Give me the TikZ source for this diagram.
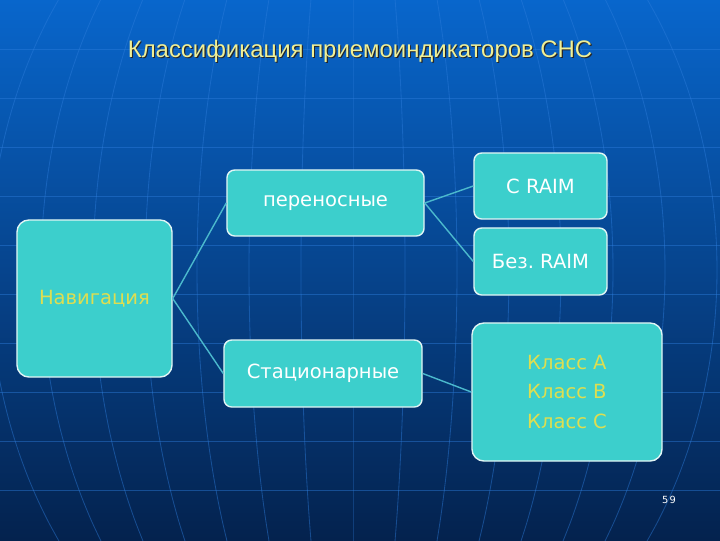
\documentclass[tikz,border=0pt]{standalone}
\usepackage{fontspec}
\setmainfont{DejaVu Sans}
\newfontfamily\titlefont{Liberation Sans}
\usetikzlibrary{positioning}
\frenchspacing

\definecolor{slidetop}{RGB}{8,102,204}
\definecolor{slidemid}{RGB}{8,70,150}
\definecolor{slidebot}{RGB}{4,34,78}
\definecolor{gridblue}{RGB}{45,125,220}
\definecolor{boxfill}{RGB}{60,207,204}
\definecolor{boxedge}{RGB}{225,245,245}
\definecolor{linkteal}{RGB}{75,185,205}
\definecolor{textyellow}{RGB}{222,222,80}
\definecolor{titleyellow}{RGB}{240,240,150}

\newcommand{\shadowed}[1]{\rlap{\kern0.8pt\raisebox{-0.8pt}{\color{black!85}#1}}#1}

\tikzset{
  box/.style={draw=boxedge, line width=1pt, fill=boxfill, rounded corners=5.5pt,
    inner sep=0pt, text=white, font=\fontsize{13.9}{21.3}\selectfont},
  bigbox/.style={box, rounded corners=8.5pt, text=textyellow},
  link/.style={linkteal, line width=1pt},
  gridline/.style={gridblue, opacity=.45, line width=.6pt},
}

\begin{document}
\begin{tikzpicture}[x=0.025cm,y=-0.025cm]
  % slide background
  \shade[top color=slidetop, middle color=slidemid, bottom color=slidebot] (0,0) rectangle (720,540);
  \useasboundingbox (0,0) rectangle (720,540);
  % globe grid
  \foreach \gy in {49,98,...,491}
    \draw[gridline] (0,\gy) -- (720,\gy);
  \foreach \gk in {-7,...,7}
    \draw[gridline, variable=\t, domain=-5:545, samples=25, smooth]
      plot ({353+52*\gk*sqrt(1-((\t-270)/460)^2)},\t);

  % title
  \node[font=\titlefont\fontsize{17}{20}\selectfont, text=titleyellow] (title) at (360,52)
    {\shadowed{Классификация приемоиндикаторов СНС}};

  % boxes
  \node[bigbox, minimum width=3.875cm, minimum height=3.925cm] (nav) at (94.5,298.5) {Навигация};
  \node[box, minimum width=4.925cm, minimum height=1.65cm] (port) at (325.5,203) {переносные};
  \node[box, minimum width=4.95cm, minimum height=1.675cm] (stat) at (323,373.5) {Стационарные};
  \node[box, minimum width=3.325cm, minimum height=1.65cm] (raim) at (540.5,186) {С RAIM};
  \node[box, minimum width=3.325cm, minimum height=1.675cm] (noraim) at (540.5,261.5) {Без. RAIM};
  \node[bigbox, align=left, minimum width=4.75cm, minimum height=3.45cm] (cls) at (567,392)
    {Класс A\\Класс B\\Класс C};

  % links
  \draw[link] (nav.east) -- (port.west);
  \draw[link] (nav.east) -- (stat.west);
  \draw[link] (port.east) -- (raim.west);
  \draw[link] (port.east) -- (noraim.west);
  \draw[link] (stat.east) -- (cls.west);

  \node[font=\fontsize{7}{8}\selectfont, text=white] (pagenum) at (669,500) {5\kern1pt9};
\end{tikzpicture}
\end{document}
